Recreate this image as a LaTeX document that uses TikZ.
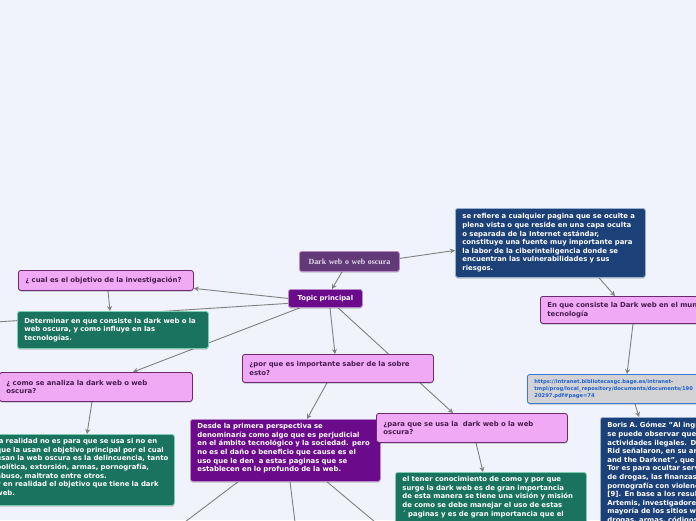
\documentclass[tikz,border=0pt]{standalone}
\usepackage{fontspec}
\setmainfont{DejaVu Sans}
\newfontfamily\titleserif{Liberation Serif}
\usetikzlibrary{arrows.meta,calc,shadows}
\pgfdeclarelayer{backlayer}
\pgfdeclarelayer{edgelayer}
\pgfsetlayers{backlayer,edgelayer,main}
\definecolor{bg}{HTML}{F0F3FB}
\definecolor{pinkfill}{HTML}{F0AAF5}
\definecolor{pinkdraw}{HTML}{6B2A72}
\definecolor{pinktext}{HTML}{4A1A50}
\definecolor{greenfill}{HTML}{1A735E}
\definecolor{greendraw}{HTML}{7CCBB0}
\definecolor{purpfill}{HTML}{6B0A8A}
\definecolor{purpdraw}{HTML}{B88BC8}
\definecolor{navyfill}{HTML}{1C4078}
\definecolor{navydraw}{HTML}{9AB0D0}
\definecolor{titlefill}{HTML}{633A78}
\definecolor{titletext}{HTML}{E2DAEA}
\definecolor{urlfill}{HTML}{D3D3D6}
\definecolor{urldraw}{HTML}{3A7BD5}
\definecolor{urltext}{HTML}{1E5FCC}
\definecolor{edgecol}{HTML}{808080}
\begin{document}
\begin{tikzpicture}[x=1pt,y=-1pt,
  box/.style={draw, rounded corners=2.5pt, line width=0.8pt, anchor=north west, align=left,
    inner xsep=7pt, inner ysep=0pt, font=\fontsize{6.9}{8.6}\selectfont\bfseries,
    drop shadow={shadow xshift=0pt, shadow yshift=-1.2pt, opacity=0.22, fill=black}},
  pinkbox/.style={box, fill=pinkfill, draw=pinkdraw, text=pinktext},
  greenbox/.style={box, fill=greenfill, draw=greendraw, text=white},
  purpbox/.style={box, fill=purpfill, draw=purpdraw, text=white},
  navybox/.style={box, fill=navyfill, draw=navydraw, text=white},
  urlbox/.style={box, fill=urlfill, draw=urldraw, text=urltext, font=\fontsize{5.2}{7.2}\selectfont\bfseries},
  edge/.style={draw=edgecol, line width=0.9pt},
  arr/.style={edge, -{Stealth[length=5pt,width=5pt]}}
]
\useasboundingbox (0,0) rectangle (696,520);
\begin{pgfonlayer}{backlayer}
\fill[bg] (0,0) rectangle (696,520);
\end{pgfonlayer}
\clip (0,0) rectangle (696,520);

% nodes
\node[box, fill=titlefill, draw=purpdraw, text=titletext, align=center, text width=86pt, minimum height=20pt,
  font=\titleserif\fontsize{7.9}{9}\selectfont\bfseries] (dark) at (299,251) {Dark web o web oscura};
\node[purpbox, align=center, text width=60pt, minimum height=18pt, font=\fontsize{6.8}{8}\selectfont\bfseries] (topic) at (288,289) {Topic principal};

\node[navybox, text width=176pt, minimum height=69pt] (blue) at (455,208)
 {se refiere a cualquier pagina que se oculte a\\plena vista o que reside en una capa oculta\\o separada de la Internet estándar,\\constituye una fuente muy importante para\\la labor de la ciberinteligencia donde se\\encuentran las vulnerabilidades y sus\\riesgos.};
\node[pinkbox, text width=200pt, minimum height=27pt] (enque) at (540,296)
 {En que consiste la Dark web en el mundo de la\\tecnología};
\node[urlbox, text width=220pt, minimum height=29pt] (url) at (527,374)
 {https://intranet.bibliotecasgc.bage.es/intranet-\\tmpl/prog/local\_repository/documents/documents/190\\20297.pdf\#page=74};
\node[navybox, text width=200pt, minimum height=120pt] (boris) at (600,417)
 {\vbox to 110pt{\hsize=200pt Boris A. Gómez "Al ingresar\\se puede observar que la\\actividades ilegales. Dentro\\Rid señalaron, en su art\\and the Darknet", que el\\Tor es para ocultar servicios\\de drogas, las finanzas\\pornografía con violencia\\{}[9]. En base a los resultados\\Artemis, investigadores\\mayoría de los sitios web\\drogas, armas, códigos\vss}};

\node[pinkbox, text width=161pt, minimum height=20pt] (cual) at (18,270) {¿ cual es el objetivo de la investigación?};
\node[greenbox, text width=177pt, minimum height=37pt] (det) at (17,311)
 {Determinar en que consiste la dark web o la\\web oscura, y como influye en las\\tecnologías.};
\node[pinkbox, text width=179pt, minimum height=29pt] (como) at (-1,372)
 {¿ como se analiza la dark web o web\\oscura?};
\node[greenbox, text width=171pt, minimum height=71pt] (gbl) at (-11,434)
 {\vbox to 63pt{\hsize=190pt la realidad no es para que se usa si no en\\que la usan el objetivo principal por el cual\\usan la web oscura es la delincuencia, tanto\\política, extorsión, armas, pornografía,\\abuso, maltrato entre otros.\\y en realidad el objetivo que tiene la dark\\web.\vss}};

\node[pinkbox, text width=177pt, minimum height=28pt] (porque) at (242,354)
 {¿por que es importante saber de la sobre\\esto?};
\node[purpbox, text width=176pt, minimum height=62pt] (desde) at (190,419)
 {\vbox to 54pt{\hsize=190pt Desde la primera perspectiva se\\denominaría como algo que es perjudicial\\en el ámbito tecnológico y la sociedad. pero\\no es el daño o beneficio que cause es el\\uso que le den\ \ a estas paginas que se\\establecen en lo profundo de la web.\vss}};
\node[pinkbox, text width=177pt, minimum height=29pt] (para) at (376,413)
 {¿para que se usa la\ \ dark web o la web\\oscura?};
\node[greenbox, text width=177pt, minimum height=70pt] (tener) at (395,472)
 {\vbox to 62pt{\hsize=190pt el tener conocimiento de como y por que\\surge la dark web es de gran importancia\\de esta manera se tiene una visión y misión\\de como se debe manejar el uso de estas\\´ paginas y es de gran importancia que el\vss}};

\coordinate (offleft) at (-20,323);
\coordinate (d1) at (185,522);
\coordinate (d2) at (295,522);
\coordinate (d3) at (375,522);

% connectors
\begin{pgfonlayer}{edgelayer}
\draw[arr] ([yshift=3pt]dark.east) -- ([yshift=-7.5pt]blue.west);
\draw[arr] ([xshift=43pt]dark.south west) -- ([xshift=44pt]topic.north west);
\draw[arr] ([xshift=144pt]blue.south west) -- ([xshift=75pt]enque.north west);
\draw[arr] ([xshift=93pt]enque.south west) -- ([xshift=100pt]url.north west);
\draw[arr] ([xshift=108pt]url.south west) -- ([xshift=39pt]boris.north west);
\draw[arr] (topic.west) -- ([yshift=-8pt]cual.east);
\draw[arr] ([xshift=90pt]cual.south west) -- ([xshift=93pt]det.north west);
\draw[edge] ([yshift=-5pt]topic.west) -- (offleft);
\draw[arr] ([xshift=12pt]topic.south west) -- ([xshift=134pt]como.north west);
\draw[arr] ([xshift=42pt]topic.south west) -- ([xshift=93pt]porque.north west);
\draw[arr] ([xshift=50pt]topic.south west) -- ([xshift=77pt]para.north west);
\draw[arr] ([xshift=93pt]como.south west) -- ([xshift=98pt]gbl.north west);
\draw[arr] ([xshift=85pt]porque.south west) -- ([xshift=117pt]desde.north west);
\draw[arr] ([xshift=100pt]para.south west) -- ([xshift=88pt]tener.north west);
\draw[edge] ([xshift=48pt]desde.south west) -- (d1);
\draw[edge] ([xshift=100pt]desde.south west) -- (d2);
\draw[edge] ([xshift=137pt]desde.south west) -- (d3);
\end{pgfonlayer}
\end{tikzpicture}
\end{document}
